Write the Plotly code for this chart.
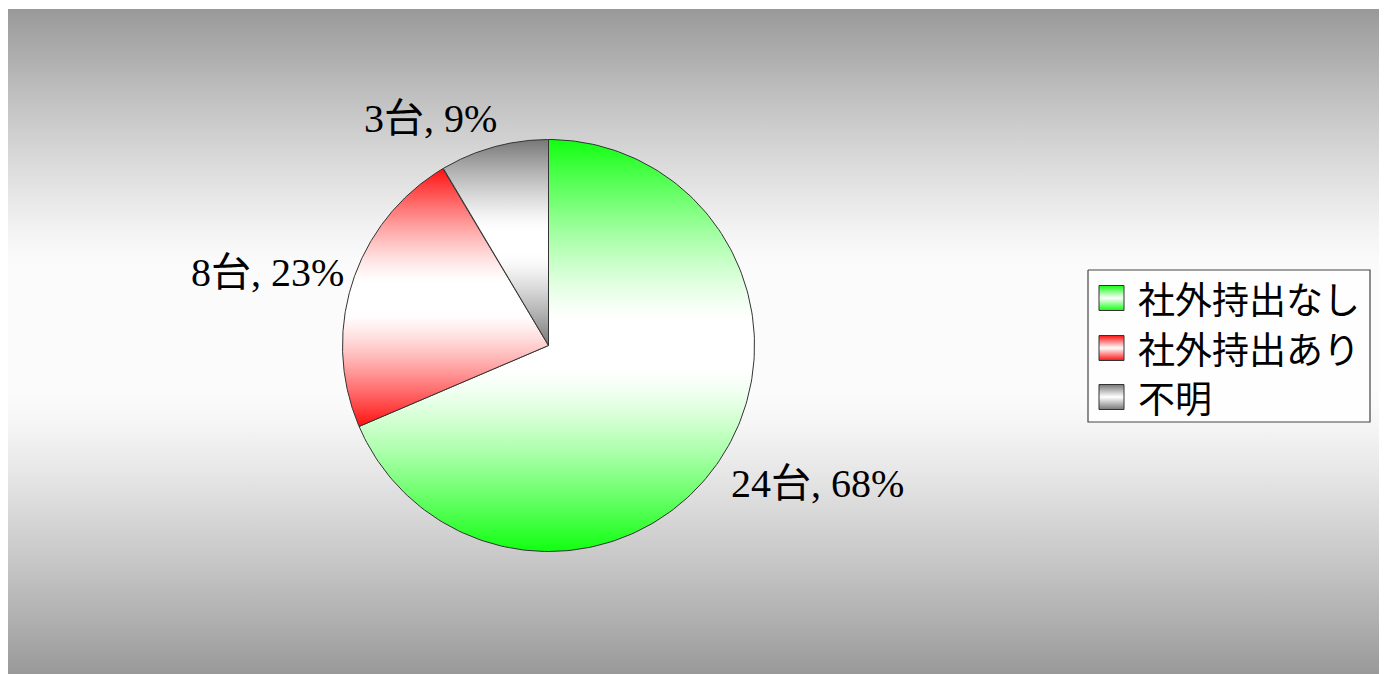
import numpy as np
import plotly.graph_objects as go

# ---- data ----
categories = ["社外持出なし", "社外持出あり", "不明"]
counts = [24, 8, 3]
percents = [68, 23, 9]
unit = "台"
colors = ["#10ff10", "#ff1010", "#777777"]

# ---- layout constants (page pixels) ----
W, H = 1387, 674
OFF = 8                      # page body margin offset of the figure
CX, CY, R = 548.5, 345.5, 206.0
label_nudges = [(0, 6), (3, 6), (8, -6)]   # (xshift, yshift) px per label


def px2x(px):
    return (px - CX) / R


def px2y(py):
    return (CY - py) / R


def hex2rgb(h):
    h = h.lstrip("#")
    return [int(h[i:i + 2], 16) for i in (0, 2, 4)]


def soft_scale(edge, center="#ffffff", knee=0.12, power=1.3, mid=0.5, n=41):
    """Symmetric colorscale: edge colour at both ends, centre colour inside."""
    e, c = hex2rgb(edge), hex2rgb(center)
    stops = []
    for t in np.linspace(0, 1, n):
        d = (mid - t) / mid if t < mid else (t - mid) / (1 - mid)
        x = min(max((d - knee) / (1 - knee), 0.0), 1.0)
        f = x ** power
        rgb = [round(c[k] + (e[k] - c[k]) * f) for k in range(3)]
        stops.append([float(t), "rgb({},{},{})".format(*rgb)])
    return stops


def grad(col):
    return dict(type="vertical", colorscale=soft_scale(col))


fig = go.Figure()

# background gradient panel
bx0, bx1, by0, by1 = 5, 1379, 9, 674
fig.add_trace(go.Scatter(
    x=[px2x(bx0), px2x(bx1), px2x(bx1), px2x(bx0), px2x(bx0)],
    y=[px2y(by0), px2y(by0), px2y(by1), px2y(by1), px2y(by0)],
    mode="none", fill="toself",
    fillgradient=dict(type="vertical",
                      colorscale=soft_scale("#999999", "#fbfbfb",
                                            knee=0.2, power=1.2, mid=0.52)),
    hoverinfo="skip", showlegend=False))

# pie wedges (clockwise from 12 o'clock)
total = sum(counts)
start = 0.0
annotations = []
for cat, n, p, col, (nx, ny) in zip(categories, counts, percents, colors,
                                    label_nudges):
    span = 360.0 * n / total
    th = np.radians(np.linspace(start, start + span, 200))
    xs = np.concatenate([[0], np.sin(th), [0]])
    ys = np.concatenate([[0], np.cos(th), [0]])
    fig.add_trace(go.Scatter(
        x=xs, y=ys, mode="lines", fill="toself",
        line=dict(color="#333333", width=1),
        fillgradient=grad(col),
        name=cat, hoverinfo="name", showlegend=False))
    mid = np.radians(start + span / 2)
    s, c = np.sin(mid), np.cos(mid)
    rl = 1.05
    xanchor = "right" if s < 0 else "left"
    if abs(c) < 0.4:
        yanchor = "middle"
    else:
        yanchor = "bottom" if c > 0 else "top"
    annotations.append(dict(
        x=rl * s, y=rl * c, xref="x", yref="y", showarrow=False,
        xshift=nx, yshift=ny,
        text=f"{n}{unit}, {p}%", xanchor=xanchor, yanchor=yanchor,
        font=dict(family="Liberation Serif, Noto Sans CJK JP, serif",
                  size=40, color="#000000")))
    start += span

# legend box
lx0, lx1, ly0, ly1 = 1088, 1370, 270, 422
fig.add_trace(go.Scatter(
    x=[px2x(lx0), px2x(lx1), px2x(lx1), px2x(lx0), px2x(lx0)],
    y=[px2y(ly0), px2y(ly0), px2y(ly1), px2y(ly1), px2y(ly0)],
    mode="lines", fill="toself", fillcolor="#fefefe",
    line=dict(color="#444444", width=1.2),
    hoverinfo="skip", showlegend=False))

row_y = [298, 348, 397]
sq_x0, sq_x1, sq_h = 1099, 1124, 25
for cat, col, ry in zip(categories, colors, row_y):
    y0, y1 = ry - sq_h / 2, ry + sq_h / 2
    fig.add_trace(go.Scatter(
        x=[px2x(sq_x0), px2x(sq_x1), px2x(sq_x1), px2x(sq_x0), px2x(sq_x0)],
        y=[px2y(y0), px2y(y0), px2y(y1), px2y(y1), px2y(y0)],
        mode="lines", fill="toself",
        line=dict(color="#333333", width=1),
        fillgradient=dict(type="vertical",
                          colorscale=soft_scale(col, knee=0.0, power=1.0)),
        hoverinfo="skip", showlegend=False))
    annotations.append(dict(
        x=px2x(1136), y=px2y(ry), xref="x", yref="y", showarrow=False,
        text=cat, xanchor="left", yanchor="middle",
        font=dict(family="Noto Sans CJK JP", size=37, color="#000000")))

fig.update_layout(
    width=W, height=H,
    margin=dict(l=0, r=0, t=0, b=0),
    paper_bgcolor="#ffffff", plot_bgcolor="#ffffff",
    xaxis=dict(range=[px2x(OFF), px2x(OFF + W)], visible=False,
               fixedrange=True),
    yaxis=dict(range=[px2y(OFF + H), px2y(OFF)], visible=False,
               fixedrange=True),
    annotations=annotations,
    showlegend=False,
)

fig.write_html("out.html")
